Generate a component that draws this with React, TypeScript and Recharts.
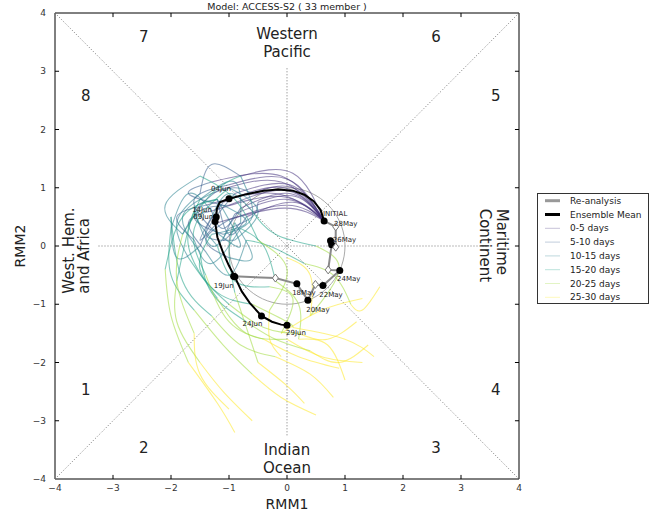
import React from 'react';
import { ComposedChart, Line, XAxis, YAxis, ReferenceLine, ReferenceDot, ReferenceArea, Legend } from 'recharts';

const FONT = '"DejaVu Sans", sans-serif';

const axisTicks = [-4, -3, -2, -1, 0, 1, 2, 3, 4];

const leadLabels = ['0-5 days', '5-10 days', '10-15 days', '15-20 days', '20-25 days', '25-30 days'];
const leadColors = ['#46337e', '#365c8d', '#277f8e', '#1fa187', '#9fda3a', '#fde725'];

// ensemble members, one point every 2.5 days from the initial state (day 0 .. day 30)
const member01 = [[0.64, 0.43], [0.1, 1.25], [-0.8, 1.2], [-1.3, 1.4], [-1.5, 0.9], [-1.9, 0.4], [-1.7, -0.2], [-1.2, -0.8], [-0.6, -1.0], [0.0, -1.3], [0.1, -1.4], [1.0, -1.6], [1.5, -1.9]];
const member02 = [[0.64, 0.43], [0.0, 1.15], [-1.0, 1.05], [-1.6, 0.8], [-1.3, 0.3], [-0.8, 0.0], [-1.2, 0.8], [-1.8, 0.5], [-2.1, -0.4], [-2.0, -1.2], [-1.7, -2.0], [-1.2, -2.7], [-0.9, -3.2]];
const member03 = [[0.64, 0.43], [-0.1, 1.1], [-1.2, 0.95], [-1.6, 0.5], [-1.1, 0.2], [-0.6, 0.5], [-0.8, 1.2], [-1.3, 0.9], [-1.8, 0.2], [-1.9, -0.6], [-1.6, -1.5], [-1.5, -2.2], [-1.0, -2.8]];
const member04 = [[0.64, 0.43], [0.05, 1.05], [-0.9, 0.9], [-1.3, 0.4], [-1.5, 0.0], [-1.9, -0.2], [-2.0, 0.5], [-1.8, -0.6], [-1.3, -1.2], [-0.8, -1.7], [-0.2, -1.9], [0.4, -2.2], [0.8, -2.6]];
const member05 = [[0.64, 0.43], [-0.05, 1.0], [-1.1, 0.75], [-1.4, 0.2], [-0.9, 0.1], [-0.5, 0.6], [-1.0, 1.0], [-1.6, 0.3], [-1.4, -0.5], [-1.0, -1.3], [-0.4, -1.6], [0.2, -1.9], [0.9, -2.1]];
const member06 = [[0.64, 0.43], [0.0, 0.95], [-1.0, 0.7], [-1.5, 0.6], [-1.8, 0.2], [-2.1, 0.7], [-1.5, 1.2], [-0.9, 0.8], [-0.5, 0.1], [0.0, -0.4], [-0.3, -1.1], [-0.3, -1.6], [-0.1, -1.9]];
const member07 = [[0.64, 0.43], [0.05, 0.9], [-0.8, 0.65], [-1.1, 0.3], [-1.3, 0.6], [-1.7, 0.9], [-2.0, 0.3], [-2.0, -0.5], [-1.6, -1.1], [-1.1, -1.7], [-0.6, -2.2], [-0.1, -2.6], [0.5, -2.9]];
const member08 = [[0.64, 0.43], [-0.1, 0.85], [-1.3, 0.6], [-1.7, 0.4], [-1.4, -0.1], [-1.0, -0.5], [-0.7, 0.1], [-0.3, 0.0], [0.3, -0.3], [0.8, -0.5], [1.1, -1.0], [1.3, -1.1], [1.6, -0.7]];
const member09 = [[0.64, 0.43], [0.0, 0.8], [-0.9, 0.55], [-1.1, 0.1], [-0.8, 0.4], [-0.9, 1.1], [-1.5, 0.8], [-1.7, 0.0], [-1.2, -0.9], [-0.7, -1.5], [0.0, -1.6], [0.6, -1.9], [1.3, -2.0]];
const member10 = [[0.64, 0.43], [0.1, 0.75], [-0.7, 0.5], [-1.0, 0.2], [-1.2, 0.8], [-1.6, 0.6], [-1.2, 0.0], [-0.9, -0.6], [-0.3, -0.7], [0.1, -0.9], [-0.1, -1.5], [0.6, -1.1], [1.3, -0.9]];
const member11 = [[0.64, 0.43], [-0.2, 0.9], [-1.4, 0.7], [-1.9, 0.5], [-1.6, 0.1], [-1.3, -0.3], [-0.8, 0.3], [-0.4, 0.0], [-0.2, -0.6], [0.2, -1.0], [0.2, -1.6], [0.7, -1.7], [1.0, -2.3]];
const member12 = [[0.64, 0.43], [0.1, 1.0], [-0.6, 0.9], [-0.9, 1.0], [-1.3, 0.9], [-1.8, 0.5], [-1.5, -0.1], [-1.3, -0.8], [-0.7, -1.3], [-0.2, -1.6], [0.4, -1.8], [0.9, -2.0], [1.4, -1.7]];
const member13 = [[0.64, 0.43], [0.0, 0.7], [-1.0, 0.45], [-1.4, 0.1], [-1.0, -0.2], [-0.6, -0.2], [-0.9, 0.4], [-1.0, -0.1], [-0.9, -0.8], [-0.7, -1.4], [-0.5, -2.0], [0.0, -2.4], [0.3, -2.7]];
const member14 = [[0.64, 0.43], [-0.1, 1.2], [-1.3, 1.1], [-1.7, 0.9], [-1.1, 0.7], [-0.7, 0.4], [-1.3, 0.2], [-1.5, -0.4], [-1.0, -1.0], [-0.4, -1.4], [0.2, -1.5], [0.7, -1.6], [1.2, -1.3]];
const member15 = [[0.64, 0.43], [0.15, 0.85], [-0.5, 0.75], [-0.6, 0.5], [-1.0, 0.3], [-1.3, 0.0], [-1.6, 0.6], [-1.7, 0.3], [-1.9, -0.6], [-1.9, -1.3], [-1.5, -2.0], [-1.1, -2.5], [-0.6, -3.0]];
const member16 = [[0.64, 0.43], [-0.05, 0.65], [-1.2, 0.4], [-1.5, 0.1], [-1.3, 0.5], [-1.0, 0.9], [-0.6, 0.6], [-0.2, 0.2], [0.5, 0.0], [0.9, -0.4], [0.4, -1.2], [0.4, -0.5], [0.0, -0.2]];

const members = [member01, member02, member03, member04, member05, member06, member07, member08,
  member09, member10, member11, member12, member13, member14, member15, member16];

// ensemble mean
const meanX = [0.64, 0.58, 0.46, 0.3, 0.1, -0.15, -0.4, -0.7, -1.0, -1.16, -1.21, -1.22, -1.24, -1.2, -1.1, -1.0, -0.9, -0.78, -0.64, -0.44, -0.26, -0.1, 0.0];
const meanY = [0.43, 0.62, 0.77, 0.88, 0.95, 0.97, 0.95, 0.89, 0.81, 0.75, 0.64, 0.5, 0.42, 0.15, -0.12, -0.34, -0.53, -0.78, -0.98, -1.2, -1.3, -1.35, -1.36];
const meanDates = ['INITIAL', '', '', '', '', '', '', '', '04Jun', '', '', '09Jun', '14Jun', '', '', '', '19Jun', '', '', '24Jun', '', '', '29Jun'];

// re-analysis (observed) before the initial date
const reanX = [-0.92, -0.2, 0.17, 0.36, 0.49, 0.62, 0.91, 0.71, 0.77, 0.75, 0.84, 0.84, 0.64];
const reanY = [-0.52, -0.55, -0.65, -0.93, -0.66, -0.68, -0.42, -0.41, 0.02, 0.09, -0.02, 0.33, 0.43];
const reanMarks = ['o', 'd', 'o', 'o', 'd', 'o', 'o', 'd', 'o', 'o', 'd', 'd', ''];
const reanDates = ['', '', '18May', '20May', '', '22May', '24May', '', '', '26May', '', '28May', ''];

const labelShift: Record<string, [number, number]> = {
  INITIAL: [11, -7], '04Jun': [-8, -10], '09Jun': [-13, 0], '14Jun': [-13, -12],
  '19Jun': [-11, 9], '24Jun': [-9, 8], '29Jun': [9, 8],
  '18May': [7, 9], '20May': [10, 10], '22May': [8, 9], '24May': [9, 9],
  '26May': [14, -1], '28May': [10, -3],
};

const meanData = meanX.map((x, i) => ({ x, y: meanY[i], date: meanDates[i] }));
const reanData = reanX.map((x, i) => ({ x, y: reanY[i], mark: reanMarks[i], date: reanDates[i] }));

const unitCircle = Array.from({ length: 73 }, (_, i) => ({
  x: Math.cos((i * 5 * Math.PI) / 180),
  y: Math.sin((i * 5 * Math.PI) / 180),
}));

const innerTicks = axisTicks.slice(1, -1);
const TICK = 0.07;

const fmtTick = (v: number) => (v < 0 ? `\u2212${Math.abs(v)}` : `${v}`);

const dateText = (cx: number, cy: number, date: string) => {
  const [dx, dy] = labelShift[date] ?? [8, 8];
  return (
    <text x={cx + dx} y={cy + dy} fontSize={7} fontFamily={FONT} fill="#222" textAnchor="middle" dominantBaseline="central">
      {date}
    </text>
  );
};

const MeanDot = (p: any) => {
  const d = p.payload;
  if (!d.date) return <g key={`md-${p.index}`} />;
  return (
    <g key={`md-${p.index}`}>
      <circle cx={p.cx} cy={p.cy} r={3.5} fill="#000" />
      {dateText(p.cx, p.cy, d.date)}
    </g>
  );
};

const ReanDot = (p: any) => {
  const d = p.payload;
  const { cx, cy } = p;
  return (
    <g key={`rd-${p.index}`}>
      {d.mark === 'o' && <circle cx={cx} cy={cy} r={3.5} fill="#000" />}
      {d.mark === 'd' && (
        <polygon points={`${cx},${cy - 4} ${cx + 3},${cy} ${cx},${cy + 4} ${cx - 3},${cy}`} fill="#fff" stroke="#777" strokeWidth={1} />
      )}
      {d.date && dateText(cx, cy, d.date)}
    </g>
  );
};

const note = (text: string, size: number, anchor = 'middle', rotate = 0, dx = 0, dy = 0) => (p: any) => {
  const x = p.cx + dx;
  const y = p.cy + dy;
  return (
    <text
      x={x}
      y={y}
      fontSize={size}
      fontFamily={FONT}
      fill="#222"
      textAnchor={anchor}
      dominantBaseline="central"
      transform={rotate ? `rotate(${rotate} ${x} ${y})` : undefined}
    >
      {text}
    </text>
  );
};

const legendRows = [
  { label: 'Re-analysis', color: '#999', width: 3, opacity: 1 },
  { label: 'Ensemble Mean', color: '#000', width: 3, opacity: 1 },
  ...leadLabels.map((label, i) => ({ label, color: leadColors[i], width: 1, opacity: 0.3 })),
];

const renderLegend = () => (
  <svg width={112} height={111} style={{ display: 'block' }}>
    <rect x={0.5} y={0.5} width={111} height={110} fill="#fff" stroke="#333" />
    {legendRows.map((r, i) => (
      <g key={r.label}>
        <line x1={8} x2={23} y1={7.7 + i * 13.8} y2={7.7 + i * 13.8} stroke={r.color} strokeWidth={r.width} strokeOpacity={r.opacity} />
        <text x={33} y={7.7 + i * 13.8} fontSize={9} fontFamily={FONT} fill="#222" dominantBaseline="central">
          {r.label}
        </text>
      </g>
    ))}
  </svg>
);

export default function App() {
  return (
    <div style={{ position: 'absolute', left: 0, top: 0, width: 654, height: 515, background: '#fff' }}>
      <ComposedChart width={654} height={515} margin={{ top: 13, right: 135, bottom: 16, left: 25 }}>
        <XAxis
          type="number"
          dataKey="x"
          domain={[-4, 4]}
          ticks={axisTicks}
          allowDataOverflow
          height={20}
          axisLine={false}
          tickLine={false}
          tickSize={0}
          tickMargin={6}
          tick={{ fontSize: 9, fill: '#333', fontFamily: FONT }}
          tickFormatter={fmtTick}
          label={{ value: 'RMM1', position: 'bottom', offset: 0, fontSize: 14, fill: '#222', fontFamily: FONT }}
        />
        <YAxis
          type="number"
          dataKey="y"
          domain={[-4, 4]}
          ticks={axisTicks}
          allowDataOverflow
          width={30}
          axisLine={false}
          tickLine={false}
          tickSize={0}
          tickMargin={9}
          tick={{ fontSize: 9, fill: '#333', fontFamily: FONT }}
          tickFormatter={fmtTick}
        />

        <ReferenceLine segment={[{ x: -4, y: -4 }, { x: 4, y: 4 }]} stroke="#777" strokeDasharray="1 2" />
        <ReferenceLine segment={[{ x: -4, y: 4 }, { x: 4, y: -4 }]} stroke="#777" strokeDasharray="1 2" />
        <ReferenceLine segment={[{ x: -3.25, y: 0 }, { x: 3.45, y: 0 }]} stroke="#777" strokeDasharray="1 2" />
        <ReferenceLine segment={[{ x: 0, y: -3.25 }, { x: 0, y: 3.05 }]} stroke="#777" strokeDasharray="1 2" />

        <Line data={unitCircle} dataKey="y" type="linear" stroke="#aaa" strokeWidth={1} dot={false} activeDot={false} isAnimationActive={false} />

        {leadColors.map((color, k) =>
          members.map((m, mi) => (
            <Line
              key={`m${mi}-s${k}`}
              data={m.slice(2 * k, 2 * k + 3).map(([x, y]) => ({ x, y }))}
              dataKey="y"
              type="natural"
              stroke={color}
              strokeOpacity={0.55}
              strokeWidth={1.1}
              dot={false}
              activeDot={false}
              isAnimationActive={false}
            />
          ))
        )}

        <Line data={reanData} dataKey="y" type="linear" stroke="#8a8a8a" strokeWidth={2} dot={ReanDot} activeDot={false} isAnimationActive={false} />
        <Line data={meanData} dataKey="y" type="linear" stroke="#000" strokeWidth={2} dot={MeanDot} activeDot={false} isAnimationActive={false} />

        {/* plot frame with inward ticks */}
        <ReferenceArea x1={-4} x2={4} y1={-4} y2={4} fill="none" stroke="#000" strokeWidth={1} ifOverflow="visible" />
        {innerTicks.map((t) => (
          <React.Fragment key={`tk${t}`}>
            <ReferenceLine segment={[{ x: t, y: -4 }, { x: t, y: -4 + TICK }]} stroke="#000" />
            <ReferenceLine segment={[{ x: t, y: 4 }, { x: t, y: 4 - TICK }]} stroke="#000" />
            <ReferenceLine segment={[{ x: -4, y: t }, { x: -4 + TICK, y: t }]} stroke="#000" />
            <ReferenceLine segment={[{ x: 4, y: t }, { x: 4 - TICK, y: t }]} stroke="#000" />
          </React.Fragment>
        ))}

        <ReferenceDot x={0} y={4} r={0} ifOverflow="visible" shape={note('Model: ACCESS-S2 ( 33 member )', 9.5, 'middle', 0, 0, -7)} />
        <ReferenceDot x={-4} y={0} r={0} ifOverflow="visible" shape={note('RMM2', 14, 'middle', -90, -35, 0)} />

        <ReferenceDot x={-2.47} y={3.59} r={0} shape={note('7', 15)} />
        <ReferenceDot x={2.57} y={3.59} r={0} shape={note('6', 15)} />
        <ReferenceDot x={-3.47} y={2.57} r={0} shape={note('8', 15)} />
        <ReferenceDot x={3.6} y={2.57} r={0} shape={note('5', 15)} />
        <ReferenceDot x={-3.47} y={-2.47} r={0} shape={note('1', 15)} />
        <ReferenceDot x={3.6} y={-2.47} r={0} shape={note('4', 15)} />
        <ReferenceDot x={-2.47} y={-3.47} r={0} shape={note('2', 15)} />
        <ReferenceDot x={2.57} y={-3.47} r={0} shape={note('3', 15)} />

        <ReferenceDot x={0} y={3.64} r={0} shape={note('Western', 15)} />
        <ReferenceDot x={0} y={3.33} r={0} shape={note('Pacific', 15)} />
        <ReferenceDot x={0} y={-3.5} r={0} shape={note('Indian', 15)} />
        <ReferenceDot x={0} y={-3.81} r={0} shape={note('Ocean', 15)} />
        <ReferenceDot x={-3.76} y={-0.82} r={0} shape={note('West. Hem.', 15, 'start', -90)} />
        <ReferenceDot x={-3.5} y={-0.82} r={0} shape={note('and Africa', 15, 'start', -90)} />
        <ReferenceDot x={3.71} y={0.64} r={0} shape={note('Maritime', 15, 'start', 90)} />
        <ReferenceDot x={3.41} y={0.64} r={0} shape={note('Continent', 15, 'start', 90)} />

        <Legend
          layout="vertical"
          align="center"
          verticalAlign="middle"
          content={renderLegend}
          wrapperStyle={{ position: 'absolute', left: 537, top: 193, width: 112, height: 111 }}
        />
      </ComposedChart>
    </div>
  );
}
